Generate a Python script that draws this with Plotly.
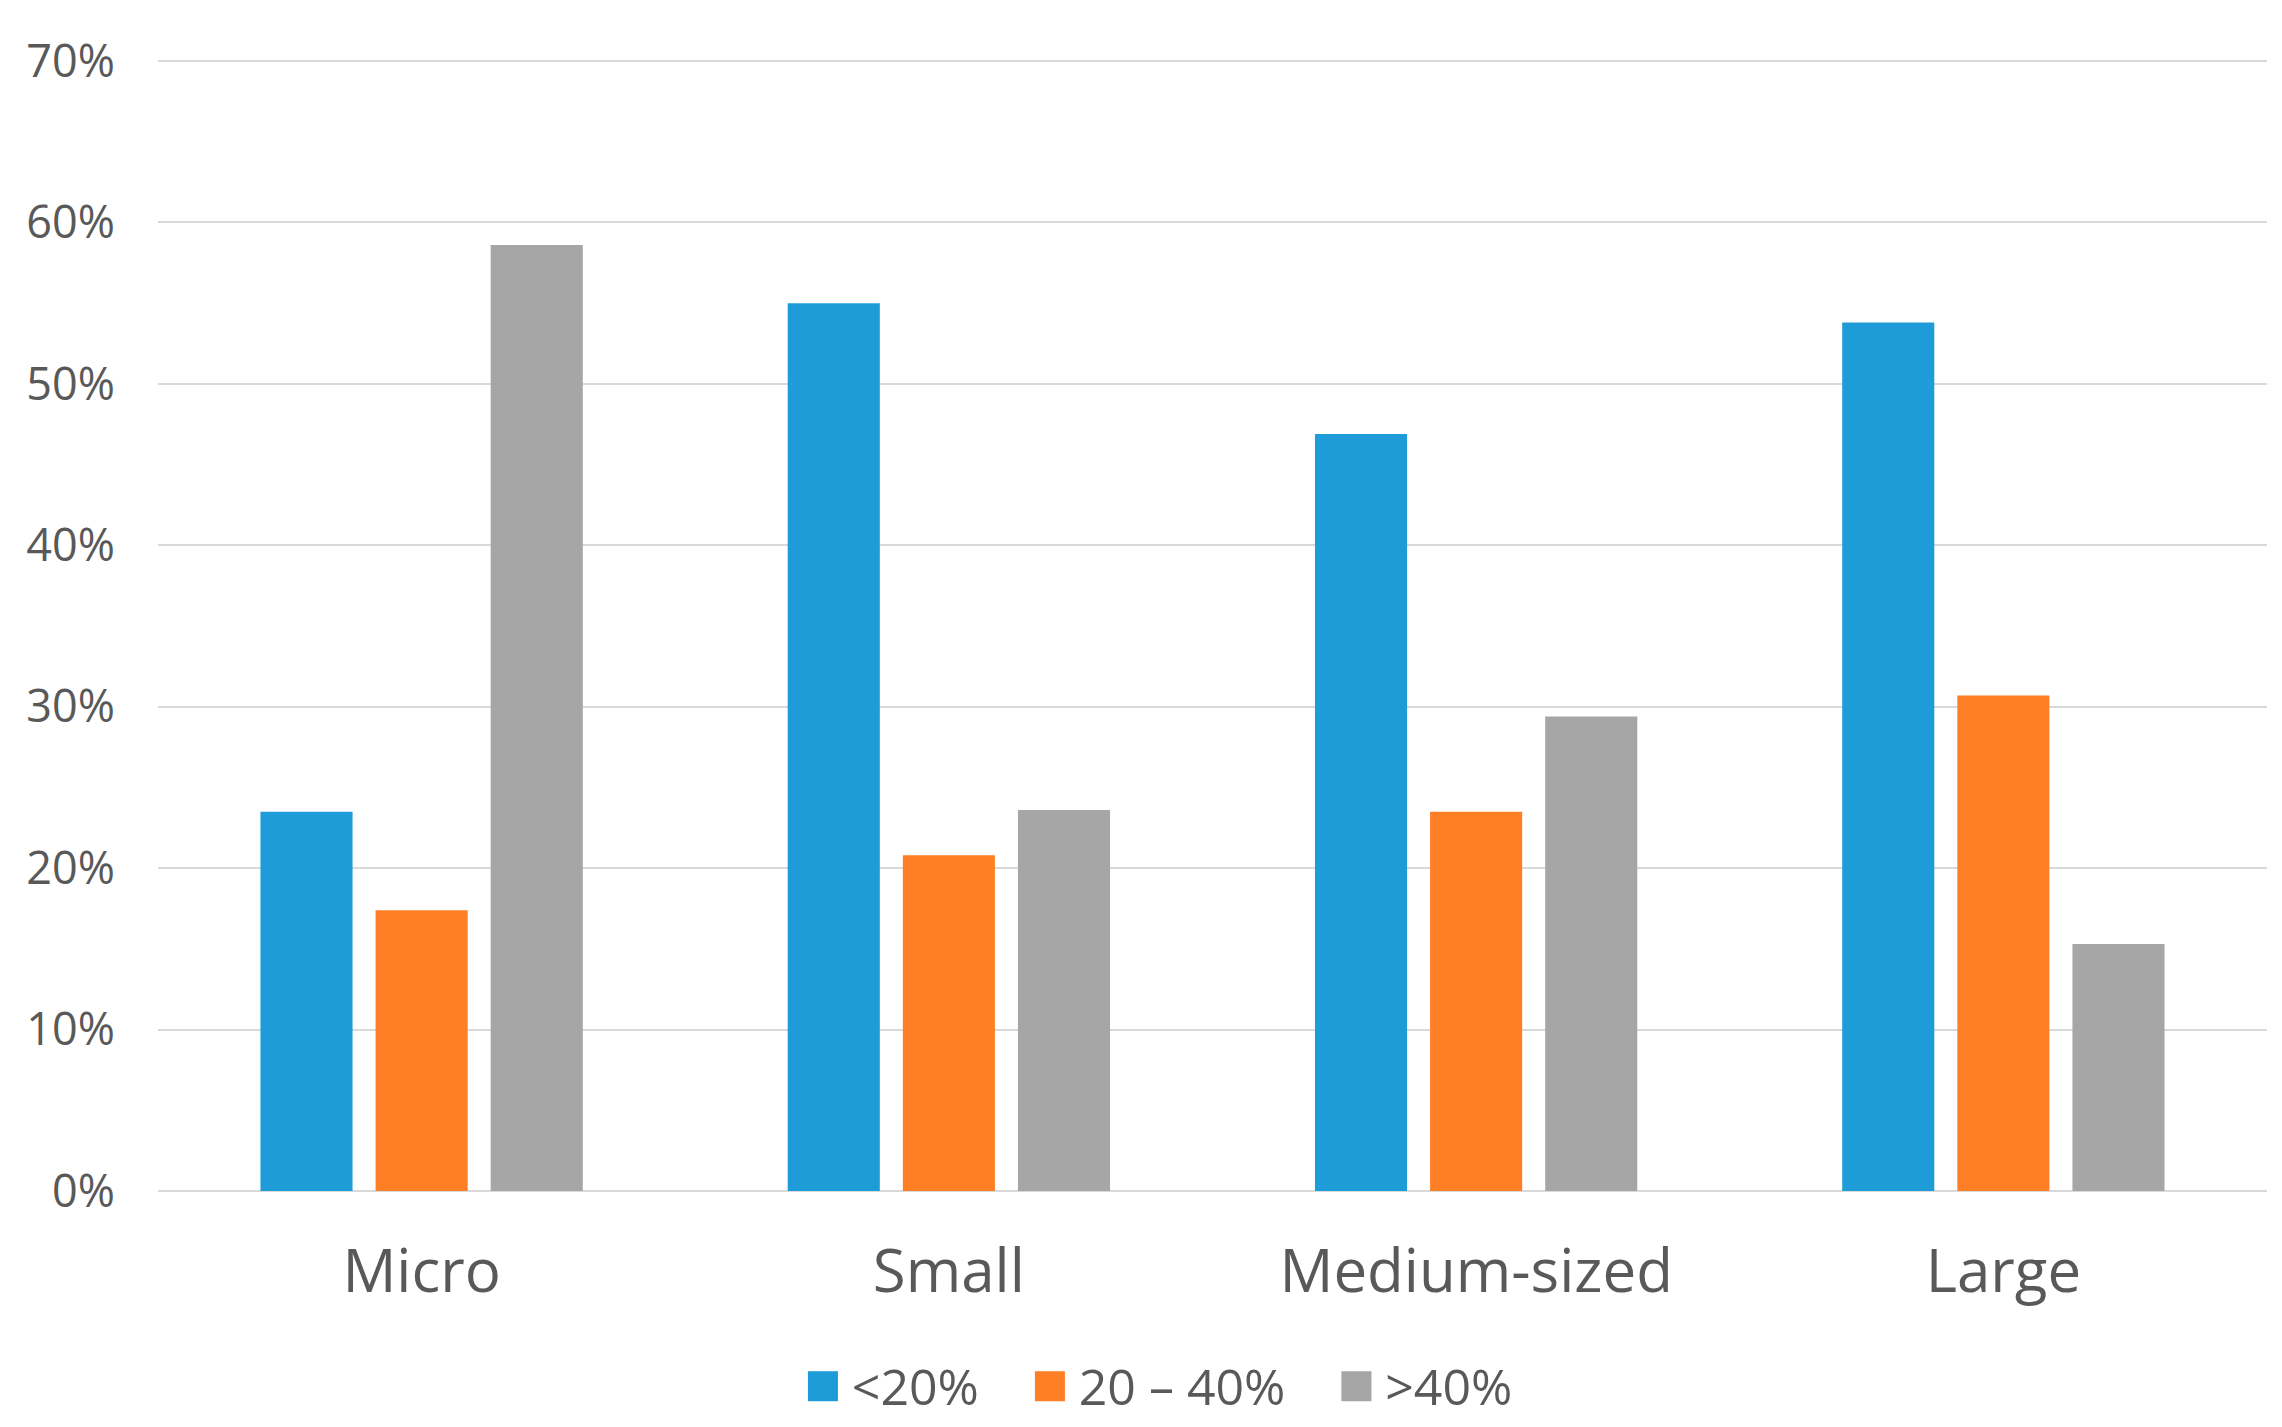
import plotly.graph_objects as go

categories = ["Micro", "Small", "Medium-sized", "Large"]
series_names = ["<20%", "20 – 40%", ">40%"]
lt20 = [23.5, 55.0, 46.9, 53.8]
mid20_40 = [17.4, 20.8, 23.5, 30.7]
gt40 = [58.6, 23.6, 29.4, 15.3]
y_ticks = [0, 10, 20, 30, 40, 50, 60, 70]
y_tick_labels = ["0%", "10%", "20%", "30%", "40%", "50%", "60%", "70%"]

colors = ["#1E9CD7", "#FE7F26", "#A6A6A6"]
series_values = [lt20, mid20_40, gt40]

fig = go.Figure()
for name, vals, col in zip(series_names, series_values, colors):
    fig.add_trace(go.Bar(x=categories, y=vals, name=name, marker_color=col,
                         marker_line_width=0, showlegend=False))

legend_text = "<span style='font-size:50px'>    </span>".join(
    f"<span style='color:{c}'>■</span><span style='font-size:40px'> </span>"
    f"<span style='font-size:50px'>{n}</span>"
    for n, c in zip(series_names, colors)
)

fig.update_layout(
    width=2282, height=1427,
    margin=dict(l=150, r=23, t=45, b=244),
    paper_bgcolor="white", plot_bgcolor="white",
    barmode="group", bargap=0.345, bargroupgap=0.2,
    font=dict(family="Open Sans", color="#595959"),
    xaxis=dict(showgrid=False, showline=False, zeroline=False,
               tickfont=dict(size=60, color="#595959"), ticklabelstandoff=40),
    yaxis=dict(range=[0, 70.5], tickvals=y_ticks, ticktext=y_tick_labels,
               showgrid=True, gridcolor="#D9D9D9", gridwidth=2,
               zeroline=True, zerolinecolor="#D9D9D9", zerolinewidth=2,
               showline=False, tickfont=dict(size=45, color="#595959"),
               ticklabelstandoff=42),
    annotations=[dict(text=legend_text, xref="paper", yref="paper",
                      x=0.474, y=-0.167, xanchor="center", yanchor="middle",
                      showarrow=False, font=dict(size=62, color="#595959"))],
)

fig.write_html("out.html")
